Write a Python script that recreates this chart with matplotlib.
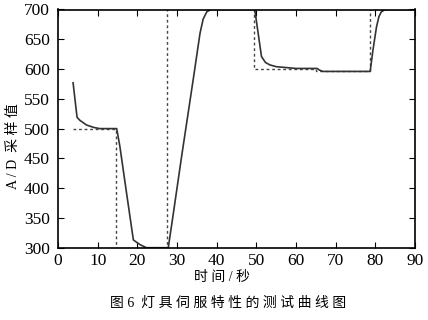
import matplotlib
matplotlib.use('Agg')
import matplotlib.pyplot as plt

plt.rcParams['font.family'] = ['Liberation Serif', 'Noto Sans CJK SC']

# curva medida (A/D) ao longo do tempo
tempo = [3.8, 4.8, 5.5, 7.2, 9.0, 10.5, 14.8, 15.6, 17.3, 19.0, 20.7, 22.3, 27.8,
         29.0, 31.2, 34.1, 35.8, 36.6, 37.5, 38.5, 49.6, 51.3, 52.3, 53.4, 55.0,
         60.0, 65.3, 66.0, 66.8, 78.7, 79.4, 80.3, 80.9, 81.5, 82.5, 90.0]
valor_ad = [577, 519, 514, 506, 502, 500, 500, 470, 391, 313, 305, 300, 300,
            354, 455, 583, 660, 684, 696, 700, 700, 621, 611, 607, 604,
            601, 601, 598, 596, 596, 632, 671, 688, 696, 700, 700]

# valor de referencia (degraus)
ref_tempo = [3.8, 14.6, 27.6, 49.4, 65.0, 78.6, 90.0]
ref_valor = [500, 300, 700, 600, 596, 700, 700]

xticks = [0, 10, 20, 30, 40, 50, 60, 70, 80, 90]
yticks = [300, 350, 400, 450, 500, 550, 600, 650, 700]

fig = plt.figure(figsize=(4.28, 3.2), dpi=100)
ax = fig.add_axes([58 / 428, 1 - 247.7 / 320, 357 / 428, 238.2 / 320])

ax.step(ref_tempo, ref_valor, where='post', color='#444444', lw=1.0,
        dashes=(2, 2))
ax.plot(tempo, valor_ad, color='#333333', lw=1.2)

ax.set_xlim(0, 90)
ax.set_ylim(300, 700)
ax.set_xticks(xticks)
ax.set_yticks(yticks)
ax.tick_params(direction='in', length=4, top=True, right=True, labelsize=12.5)
ax.tick_params(axis='x', pad=4)
ax.tick_params(axis='y', pad=6)
for s in ax.spines.values():
    s.set_linewidth(1.2)

fig.text(13.5 / 428, 1 - 146 / 320, 'A / D  采 样 值', rotation=90,
         ha='center', va='center', fontsize=10)
fig.text(222.5 / 428, 1 - 278 / 320, '时 间 / 秒', ha='center', va='center',
         fontsize=10)
fig.text(228 / 428, 1 - 303 / 320, '图 6  灯 具 伺 服 特 性 的 测 试 曲 线 图',
         ha='center', va='center', fontsize=10)

fig.savefig('out.png', dpi=100)
